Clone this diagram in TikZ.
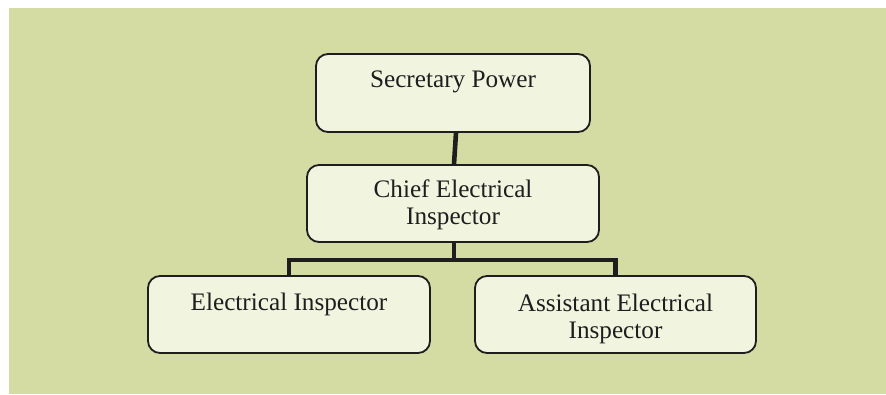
\documentclass[tikz,border=0pt]{standalone}
\usepackage{fontspec}
\setmainfont{Liberation Serif}
\usetikzlibrary{calc}
\definecolor{panelgreen}{RGB}{212,219,163}
\definecolor{boxfill}{RGB}{241,245,224}
\definecolor{ink}{RGB}{30,30,30}
% box text: top-aligned, first baseline fixed below the box top
\newcommand\orgtext[4]{\parbox[c][#1][t]{#2}{\centering\rule{0pt}{#3}#4}}
\tikzset{
  orgbox/.style={draw=ink, line width=1.8pt, fill=boxfill, rounded corners=12pt,
    inner sep=0pt, text=ink,
    font=\fontsize{25.2}{27}\selectfont},
  link/.style={draw=ink, line width=4.6pt, line join=miter}
}
\begin{document}
\begin{tikzpicture}[x=1pt, y=-1pt]
  \useasboundingbox (0,0) rectangle (886,394);
  \fill[white] (0,0) rectangle (886,394);
  \fill[panelgreen] (9,8) rectangle (886,394);

  \node[orgbox] (sec) at (453,93) {\orgtext{78pt}{274pt}{33pt}{Secretary Power}};
  \node[orgbox] (chief) at (453,203.5) {\orgtext{77pt}{292pt}{32pt}{Chief Electrical\\Inspector}};
  \node[orgbox] (ei) at (289,314.5) {\orgtext{77pt}{282pt}{34pt}{Electrical Inspector}};
  \node[orgbox] (aei) at (615.5,314.5) {\orgtext{77pt}{281pt}{35pt}{Assistant Electrical\\Inspector}};

  \coordinate (bar) at (454,260);
  \draw[link] ($(sec.south)+(3,0)$) -- ($(chief.north)+(1,0)$);
  \draw[link] (chief.south -| bar) -- (bar);
  \draw[link] (ei.north) |- (bar) -| (aei.north);
\end{tikzpicture}
\end{document}
